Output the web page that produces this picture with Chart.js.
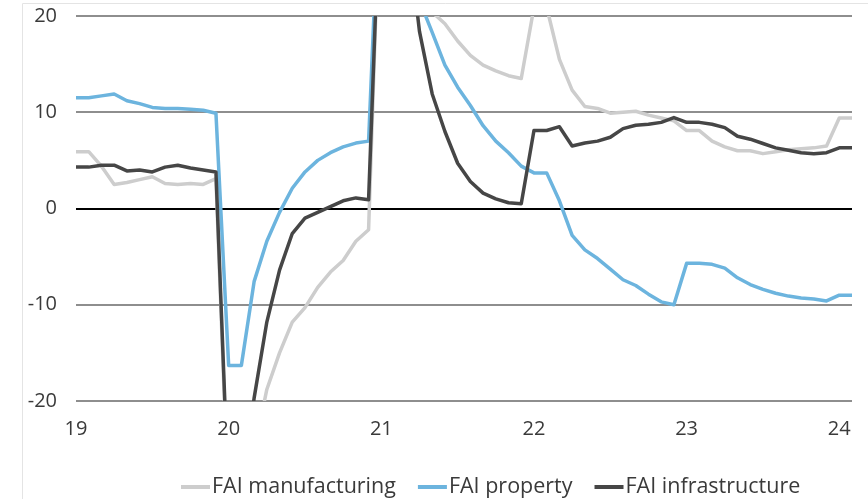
<!DOCTYPE html>
<html>
<head>
<meta charset="utf-8">
<script src="https://cdn.jsdelivr.net/npm/chart.js@4.4.1/dist/chart.umd.min.js"></script>
<style>
  html, body { margin: 0; padding: 0; background: #ffffff; }
  #wrap { width: 868px; height: 499px; position: relative; }
</style>
</head>
<body>
<div id="wrap"><canvas id="chart" width="868" height="499"></canvas></div>
<script>
// Monthly observations, Jan 2019 to Feb 2024 (year-to-date growth, % y/y)
const months = [
  '2019-01','2019-02','2019-03','2019-04','2019-05','2019-06','2019-07','2019-08','2019-09','2019-10','2019-11','2019-12',
  '2020-01','2020-02','2020-03','2020-04','2020-05','2020-06','2020-07','2020-08','2020-09','2020-10','2020-11','2020-12',
  '2021-01','2021-02','2021-03','2021-04','2021-05','2021-06','2021-07','2021-08','2021-09','2021-10','2021-11','2021-12',
  '2022-01','2022-02','2022-03','2022-04','2022-05','2022-06','2022-07','2022-08','2022-09','2022-10','2022-11','2022-12',
  '2023-01','2023-02','2023-03','2023-04','2023-05','2023-06','2023-07','2023-08','2023-09','2023-10','2023-11','2023-12',
  '2024-01','2024-02'
];

// Year labels shown under each January
const yearLabels = ['19', '20', '21', '22', '23', '24'];

const faiManufacturing = [
  5.9, 5.9, 4.4, 2.5, 2.7, 3.0, 3.3, 2.6, 2.5, 2.6, 2.5, 3.1,
  -31.5, -31.5, -25.2, -18.8, -15.0, -11.8, -10.3, -8.2, -6.6, -5.4, -3.4, -2.2,
  37.3, 37.3, 29.8, 23.8, 20.4, 19.2, 17.4, 15.9, 14.9, 14.3, 13.8, 13.5,
  20.9, 20.9, 15.5, 12.3, 10.6, 10.4, 9.9, 10.0, 10.1, 9.7, 9.4, 9.1,
  8.1, 8.1, 7.0, 6.4, 6.0, 6.0, 5.7, 5.9, 6.1, 6.2, 6.3, 6.5,
  9.4, 9.4
];

const faiProperty = [
  11.5, 11.5, 11.7, 11.9, 11.2, 10.9, 10.5, 10.4, 10.4, 10.3, 10.2, 9.9,
  -16.3, -16.3, -7.6, -3.4, -0.4, 2.1, 3.8, 5.0, 5.8, 6.4, 6.8, 7.0,
  38.3, 38.3, 25.6, 21.6, 18.3, 14.9, 12.6, 10.7, 8.6, 7.0, 5.8, 4.4,
  3.7, 3.7, 0.8, -2.8, -4.3, -5.2, -6.3, -7.4, -8.0, -8.9, -9.7, -10.0,
  -5.7, -5.7, -5.8, -6.2, -7.2, -7.9, -8.4, -8.8, -9.1, -9.3, -9.4, -9.6,
  -9.0, -9.0
];

const faiInfrastructure = [
  4.3, 4.3, 4.5, 4.5, 3.9, 4.0, 3.8, 4.3, 4.5, 4.2, 4.0, 3.8,
  -30.3, -30.3, -19.7, -11.8, -6.4, -2.6, -1.0, -0.4, 0.2, 0.8, 1.1, 0.9,
  36.6, 36.6, 29.7, 18.4, 11.9, 8.0, 4.7, 2.8, 1.6, 1.0, 0.6, 0.5,
  8.1, 8.1, 8.5, 6.5, 6.8, 7.0, 7.4, 8.3, 8.65, 8.75, 8.95, 9.45,
  8.95, 8.95, 8.75, 8.4, 7.5, 7.2, 6.75, 6.3, 6.05, 5.8, 5.7, 5.8,
  6.3, 6.3
];

const FONT = "'Open Sans', 'Noto Sans', sans-serif";
const TEXT = '#3a3a3a';

// Thin outer frame along the top and left edges
const framePlugin = {
  id: 'frame',
  beforeDraw(chart) {
    const ctx = chart.ctx;
    ctx.save();
    ctx.strokeStyle = '#e4e4e4';
    ctx.lineWidth = 1;
    ctx.beginPath();
    ctx.moveTo(22.5, chart.height);
    ctx.lineTo(22.5, 3.5);
    ctx.lineTo(chart.width, 3.5);
    ctx.stroke();
    ctx.restore();
  }
};

// Legend with a short line swatch placed right against each label
const lineLegend = {
  id: 'lineLegend',
  afterDraw(chart, args, opts) {
    const ctx = chart.ctx;
    ctx.save();
    ctx.font = opts.size + 'px ' + FONT;
    ctx.textBaseline = 'middle';
    ctx.textAlign = 'left';
    let x = opts.startX;
    const y = opts.y;
    chart.data.datasets.forEach(ds => {
      const tw = ctx.measureText(ds.label).width;
      ctx.fillStyle = ds.borderColor;
      ctx.fillRect(x, y - opts.thickness / 2, opts.swatch, opts.thickness);
      ctx.fillStyle = TEXT;
      ctx.fillText(ds.label, x + opts.swatch + opts.gap, y);
      x += opts.swatch + opts.gap + tw + opts.spacing;
    });
    ctx.restore();
  }
};

new Chart(document.getElementById('chart'), {
  type: 'line',
  data: {
    labels: months,
    datasets: [
      { label: 'FAI manufacturing', data: faiManufacturing, borderColor: '#cdcdcd', order: 3 },
      { label: 'FAI property', data: faiProperty, borderColor: '#6cb4de', order: 2 },
      { label: 'FAI infrastructure', data: faiInfrastructure, borderColor: '#464646', order: 1 }
    ]
  },
  options: {
    responsive: false,
    animation: false,
    events: [],
    layout: { padding: { left: 0, right: 10, top: 16, bottom: 50 } },
    elements: {
      line: { borderWidth: 3.5, tension: 0, borderJoinStyle: 'round', borderCapStyle: 'butt', fill: false },
      point: { radius: 0, hoverRadius: 0 }
    },
    datasets: { line: { clip: { left: 2, right: 2, top: 0, bottom: 0 } } },
    scales: {
      x: {
        type: 'category',
        offset: false,
        grid: { display: false, drawTicks: false },
        border: { display: false },
        ticks: {
          autoSkip: false,
          maxRotation: 0,
          minRotation: 0,
          padding: 16,
          color: TEXT,
          font: { family: FONT, size: 20 },
          callback: (value, index) => {
            const m = months[index];
            if (m.endsWith('-01')) {
              return yearLabels[Number(m.slice(0, 4)) - 2019];
            }
            return '';
          }
        },
        afterFit: s => { s.height = 48; }
      },
      y: {
        min: -20,
        max: 20,
        grid: {
          drawTicks: false,
          color: ctx => ctx.tick.value === 0 ? '#000000' : '#8e8e8e',
          lineWidth: 2
        },
        border: { display: false },
        ticks: {
          stepSize: 10,
          padding: 19,
          color: TEXT,
          font: { family: FONT, size: 20 }
        },
        afterFit: s => { s.width = 76; s.paddingTop = 0; s.paddingBottom = 0; }
      }
    },
    plugins: {
      legend: { display: false },
      tooltip: { enabled: false },
      lineLegend: { size: 21.5, swatch: 29, gap: 2, thickness: 4, spacing: 22, startX: 181, y: 487 }
    }
  },
  plugins: [framePlugin, lineLegend]
});
</script>
</body>
</html>
